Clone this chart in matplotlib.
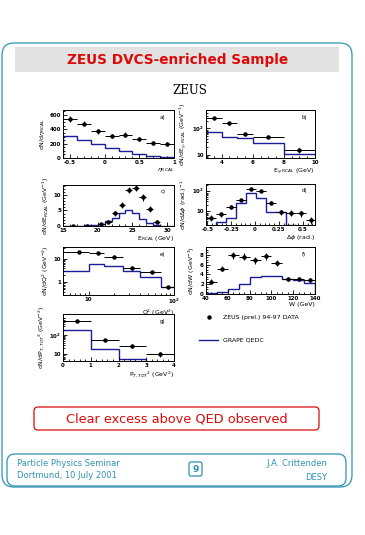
import matplotlib
matplotlib.use("Agg")
import matplotlib.pyplot as plt
from matplotlib.patches import FancyBboxPatch, Rectangle
from matplotlib.lines import Line2D
from matplotlib.ticker import FuncFormatter, MultipleLocator, FixedLocator
import numpy as np

W, H = 365, 535

# ---------------- data ----------------
a_edges = [-0.6, -0.4, -0.2, 0.0, 0.2, 0.4, 0.6, 0.8, 1.0]
a_data = [549, 479, 372, 307, 326, 270, 209, 200]
a_err = [40, 38, 32, 28, 30, 26, 24, 24]
a_mc = [302, 256, 191, 144, 93, 51, 23, 9]

b_edges = [3, 4, 5, 6, 8, 10]
b_data = [243, 156, 64, 49, 14.7]
b_err = [20, 16, 9, 6, 3.5]
b_mc = [74, 48, 44, 29, 11]

c_x = [16.5, 18.5, 20.5, 21.5, 22.5, 23.5, 24.5, 25.5, 26.5, 27.5, 28.5]
c_data = [0.05, 0.05, 0.7, 1.4, 4.1, 6.8, 11.7, 12.2, 9.2, 5.4, 1.4]
c_err = [0.1, 0.1, 0.4, 0.5, 0.8, 1.0, 1.0, 1.0, 1.0, 0.9, 0.5]
c_edges = [15, 16, 17, 18, 19, 20, 21, 22, 23, 24, 25, 26, 27, 28, 29, 30, 31]
c_mc = [0, 0, 0.1, 0.2, 0.3, 0.6, 1.6, 2.5, 4.1, 5.1, 4.3, 2.3, 1.1, 0.3, 0, 0]

d_edges = [-0.513, -0.408, -0.304, -0.199, -0.094, 0.010, 0.115, 0.220,
           0.324, 0.429, 0.534, 0.639]
d_data = [4.4, 6.7, 15.3, 33.7, 118, 91, 25, 8.5, 7.8, 7.2, 3.5]
d_err = [1.5, 2.0, 3.0, 5.0, 10, 9, 4.5, 2.5, 2.4, 2.3, 1.4]
d_mc = [0.5, 2.7, 4.4, 22.7, 72, 44, 8.5, 8.5, 2.0, 0.5, 0.5]

e_edges = [5, 10, 15, 25, 40, 70, 100]
e_x = [7.6, 12.8, 20.0, 32.4, 55.6, 85.0]
e_data = [20.6, 19.3, 12.6, 4.4, 2.7, 0.63]
e_err = [1.5, 1.5, 1.1, 0.5, 0.3, 0.1]
e_mc = [3.16, 6.1, 5.0, 3.1, 1.64, 0.61]

f_edges = [40, 50, 60, 70, 80, 90, 100, 110, 120, 130, 140]
f_data = [2.55, 5.2, 7.9, 7.6, 6.9, 7.7, 6.3, 3.1, 3.1, 2.9]
f_err = [0.45, 0.6, 0.7, 0.7, 0.7, 0.7, 0.6, 0.45, 0.45, 0.45]
f_mc = [0.15, 0.5, 1.0, 2.1, 3.4, 3.6, 3.6, 3.1, 2.9, 2.3]

g_edges = [0, 1, 2, 3, 4]
g_data = [580, 58, 25, 9.2]
g_err = [30, 8, 5, 3]
g_mc = [187, 18.8, 5.3, 2.0]

TEAL = "#2f93b3"
RED = "#dd0a0a"
MCBLUE = "#1c1c9a"

fig = plt.figure(figsize=(W / 100, H / 100), dpi=100)
fig.patch.set_facecolor("white")

bg = fig.add_axes([0, 0, 1, 1])
bg.set_xlim(0, W)
bg.set_ylim(H, 0)
bg.axis("off")

def rbox(x0, y0, x1, y1, r, ec, fc="none", lw=1.0):
    p = FancyBboxPatch((x0 + r, y0 + r), (x1 - x0) - 2 * r, (y1 - y0) - 2 * r,
                       boxstyle="round,pad=%g" % r, ec=ec, fc=fc, lw=lw)
    bg.add_patch(p)

rbox(2, 43, 352, 487, 12, TEAL, lw=0.9)
bg.add_patch(Rectangle((15, 47), 324, 25, fc="#e2e2e2", ec="none"))
bg.text(178, 60, "ZEUS DVCS-enriched Sample", color=RED, fontsize=9.8,
        fontweight="bold", ha="center", va="center")
bg.text(190, 91, "ZEUS", fontsize=8.5, family="DejaVu Serif", ha="center",
        va="center")
rbox(34, 407, 319, 430, 4, RED, lw=0.9)
bg.text(177, 418.5, "Clear excess above QED observed", color=RED,
        fontsize=9.3, ha="center", va="center")
rbox(7, 454, 346, 486, 8, TEAL, lw=0.9)
bg.text(17, 463, "Particle Physics Seminar", color=TEAL, fontsize=6, va="center")
bg.text(17, 476, "Dortmund, 10 July 2001", color=TEAL, fontsize=6, va="center")
bg.text(327, 463, "J.A. Crittenden", color=TEAL, fontsize=6, va="center", ha="right")
bg.text(327, 477, "DESY", color=TEAL, fontsize=6, va="center", ha="right")
rbox(189, 462, 202, 476, 2, TEAL, lw=0.9)
bg.text(195.5, 469, "9", color=TEAL, fontsize=6.5, fontweight="bold",
        ha="center", va="center")

TF = 4.0
LF = 4.5

def logfmt(v, pos):
    n = int(round(np.log10(v)))
    if n == 0:
        return "1"
    if n == 1:
        return "10"
    return r"$\mathbf{10^{%d}}$" % n

def panel(x0, y0, x1, y1):
    ax = fig.add_axes([x0 / W, 1 - y1 / H, (x1 - x0) / W, (y1 - y0) / H])
    ax.tick_params(which="both", direction="in", labelsize=TF, pad=1.5,
                   width=0.6)
    ax.tick_params(which="major", length=3)
    ax.tick_params(which="minor", length=1.6)
    for s in ax.spines.values():
        s.set_linewidth(0.7)
    return ax

def finish(ax):
    for t in ax.get_xticklabels() + ax.get_yticklabels():
        t.set_fontweight("bold")

def draw(ax, edges, mc, x, data, xerr, yerr, log=False, lab=""):
    ax.stairs(mc, edges, color=MCBLUE, lw=1.0, baseline=None if log else 0)
    ax.errorbar(x, data, xerr=xerr, yerr=yerr, fmt="o", ms=2.2, color="black",
                elinewidth=0.7, capsize=0)
    ax.text(0.9, 0.85, lab, transform=ax.transAxes, fontsize=TF, ha="center",
            va="center")

def centers(edges):
    e = np.asarray(edges, float)
    return (e[:-1] + e[1:]) / 2, (e[1:] - e[:-1]) / 2

# a
ax = panel(63, 110, 174, 158)
xc, xw = centers(a_edges)
draw(ax, a_edges, a_mc, xc, a_data, xw, a_err, lab="a)")
ax.set_xlim(-0.6, 1.0); ax.set_ylim(0, 670)
ax.set_xticks([-0.5, 0, 0.5, 1]); ax.set_xticklabels(["-0.5", "0", "0.5", "1"])
ax.set_yticks([0, 200, 400, 600])
ax.minorticks_on()
ax.set_ylabel(r"dN/d$\eta_{RCAL}$", fontsize=LF, labelpad=2)
ax.set_xlabel(r"$\eta_{RCAL}$", fontsize=LF, loc="right", labelpad=1)
finish(ax)

# b
ax = panel(206, 110, 315, 158)
xc, xw = centers(b_edges)
draw(ax, b_edges, b_mc, xc, b_data, xw, b_err, log=True, lab="b)")
ax.set_yscale("log")
ax.set_xlim(3, 10); ax.set_ylim(7.4, 510)
ax.yaxis.set_major_formatter(FuncFormatter(logfmt))
ax.set_xticks([4, 6, 8, 10])
ax.xaxis.set_minor_locator(MultipleLocator(0.5))
ax.set_ylabel(r"dN/dE$_{\gamma,RCAL}$ (GeV$^{-1}$)", fontsize=LF, labelpad=2)
ax.set_xlabel(r"E$_{\gamma,RCAL}$ (GeV)", fontsize=LF, loc="right", labelpad=1)
finish(ax)

# c
ax = panel(63, 185, 174, 226)
draw(ax, c_edges, c_mc, c_x, c_data, 0.5, c_err, lab="c)")
ax.set_xlim(15, 31); ax.set_ylim(0, 13.2)
ax.set_xticks([15, 20, 25, 30]); ax.set_yticks([0, 5, 10])
ax.minorticks_on()
ax.set_ylabel(r"dN/dE$_{RCAL}$ (GeV$^{-1}$)", fontsize=LF, labelpad=2)
ax.set_xlabel(r"E$_{RCAL}$ (GeV)", fontsize=LF, loc="right", labelpad=1)
finish(ax)

# d
ax = panel(206, 184, 315, 225)
xc, xw = centers(d_edges)
draw(ax, d_edges, d_mc, xc, d_data, xw, d_err, log=True, lab="d)")
ax.set_yscale("log")
ax.set_xlim(-0.513, 0.628); ax.set_ylim(1.9, 213)
ax.yaxis.set_major_formatter(FuncFormatter(logfmt))
ax.set_xticks([-0.5, -0.25, 0, 0.25, 0.5])
ax.set_xticklabels(["-0.5", "-0.25", "0", "0.25", "0.5"])
ax.xaxis.set_minor_locator(MultipleLocator(0.05))
ax.set_ylabel(r"dN/d$\Delta\phi$ (rad.)$^{-1}$", fontsize=LF, labelpad=2)
ax.set_xlabel(r"$\Delta\phi$ (rad.)", fontsize=LF, loc="right", labelpad=1)
finish(ax)

# e
ax = panel(63, 247, 174, 295)
e_lo = [x - l for x, l in zip(e_x, e_edges[:-1])]
e_hi = [h - x for x, h in zip(e_x, e_edges[1:])]
draw(ax, e_edges, e_mc, e_x, e_data, [e_lo, e_hi], e_err, log=True, lab="e)")
ax.set_xscale("log"); ax.set_yscale("log")
ax.set_xlim(5, 100); ax.set_ylim(0.286, 33.8)
ax.yaxis.set_major_formatter(FuncFormatter(logfmt))
ax.xaxis.set_major_formatter(FuncFormatter(logfmt))
ax.set_ylabel(r"dN/dQ$^2$ (GeV$^{-2}$)", fontsize=LF, labelpad=2)
ax.set_xlabel(r"Q$^2$ (GeV$^2$)", fontsize=LF, loc="right", labelpad=1)
finish(ax)

# f
ax = panel(206, 247, 315, 294)
xc, xw = centers(f_edges)
draw(ax, f_edges, f_mc, xc, f_data, xw, f_err, lab="f)")
ax.set_xlim(40, 140); ax.set_ylim(0, 9.6)
ax.set_xticks([40, 60, 80, 100, 120, 140]); ax.set_yticks([0, 2, 4, 6, 8])
ax.minorticks_on()
ax.set_ylabel(r"dN/dW (GeV$^{-1}$)", fontsize=LF, labelpad=2)
ax.set_xlabel(r"W (GeV)", fontsize=LF, loc="right", labelpad=1)
finish(ax)

# g
ax = panel(63, 314, 174, 361)
xc, xw = centers(g_edges)
draw(ax, g_edges, g_mc, xc, g_data, xw, g_err, log=True, lab="g)")
ax.set_yscale("log")
ax.set_xlim(0, 4); ax.set_ylim(4, 1400)
ax.yaxis.set_major_locator(FixedLocator([10, 100]))
ax.yaxis.set_major_formatter(FuncFormatter(logfmt))
ax.set_xticks([0, 1, 2, 3, 4])
ax.xaxis.set_minor_locator(MultipleLocator(0.2))
ax.set_ylabel(r"dN/dP$_{T,TOT}$$^2$ (GeV$^{-2}$)", fontsize=LF, labelpad=2)
ax.set_xlabel(r"P$_{T,TOT}$$^2$ (GeV$^2$)", fontsize=LF, loc="right", labelpad=1)
finish(ax)

# legend
h_data = Line2D([], [], marker="o", ms=2.2, color="black", ls="none")
h_mc = Line2D([], [], color=MCBLUE, lw=1.0)
fig.legend([h_data, h_mc], ["ZEUS (prel.) 94-97 DATA", "GRAPE QEDC"],
           loc="upper left", bbox_to_anchor=(196 / W, 1 - 312 / H),
           frameon=False, fontsize=LF, handlelength=3.0, labelspacing=2.7,
           handletextpad=0.8, borderpad=0)

fig.savefig("out.png", dpi=100)
